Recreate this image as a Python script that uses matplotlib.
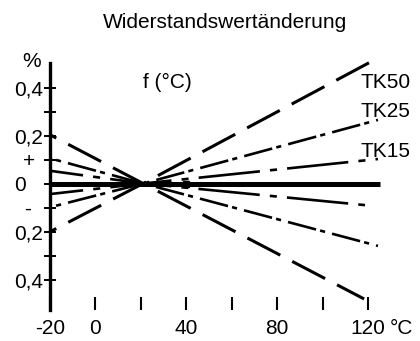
import matplotlib
matplotlib.use('Agg')
import matplotlib.pyplot as plt

plt.rcParams['font.family'] = 'Liberation Sans'
plt.rcParams['lines.scale_dashes'] = False

# temperature (°C) / resistance change (%)
tk50_up_x = [-20, 21, 124.4]
tk50_up_y = [-0.201, 0, 0.523]
tk50_dn_x = [-20, 21, 118.3]
tk50_dn_y = [0.203, 0, -0.481]
tk25_up_x = [-20, 21, 124.4]
tk25_up_y = [-0.099, 0, 0.265]
tk25_dn_x = [-20, 21, 124.4]
tk25_dn_y = [0.105, 0, -0.260]
tk15_up_x = [-20, 21, 124.4]
tk15_up_y = [-0.044, 0, 0.102]
tk15_dn_x = [-20, 21, 118.7]
tk15_dn_y = [0.053, 0, -0.090]
zero_x = [-20, 125.3]
zero_y = [0, 0]
marker_x = [40]
marker_y = [0]

xticks = [-20, 0, 20, 40, 60, 80, 100, 120]
xlabels = ['-20', '0', '', '40', '', '80', '', '120']
yticks = [0.4, 0.3, 0.2, 0.1, 0, -0.1, -0.2, -0.3, -0.4]
ylab_vals = [0.4, 0.2, 0.1, 0.0, -0.1, -0.2, -0.4]
ylab_txt = ['0,4', '0,2', '+', '0', '-', '0,2', '0,4']
curve_names = ['TK50', 'TK25', 'TK15']
curve_label_y = [0.398, 0.277, 0.110]

fig = plt.figure(figsize=(4.2, 3.41), dpi=100)
ax = fig.add_axes([50/420, 31/341, 331.6/420, 256.1/341])

ls50 = (21.6, (26.7, 9.7))
ls25 = (19.4, (20.9, 3.0, 3.7, 5.2))
ls15 = (20.3, (44.3, 7.3, 5.1, 7.3))

ax.plot(tk50_up_x, tk50_up_y, color='black', lw=2.2, linestyle=ls50, clip_on=False)
ax.plot(tk50_dn_x, tk50_dn_y, color='black', lw=2.2, linestyle=ls50, clip_on=False)
ax.plot(tk25_up_x, tk25_up_y, color='black', lw=1.9, linestyle=ls25, clip_on=False)
ax.plot(tk25_dn_x, tk25_dn_y, color='black', lw=1.9, linestyle=ls25, clip_on=False)
ax.plot(tk15_up_x, tk15_up_y, color='black', lw=1.9, linestyle=ls15, clip_on=False)
ax.plot(tk15_dn_x, tk15_dn_y, color='black', lw=1.9, linestyle=ls15, clip_on=False)
ax.plot(zero_x, zero_y, color='black', lw=3.6, solid_capstyle='butt', clip_on=False)
ax.plot(marker_x, marker_y, 's', color='black', ms=5)

ax.set_xlim(-20, 126)
ax.set_ylim(-0.527, 0.54)

for s in ['top', 'right', 'bottom']:
    ax.spines[s].set_visible(False)
ax.spines['left'].set_linewidth(2.4)
ax.spines['left'].set_bounds(-0.527, 0.502)

ax.set_xticks(xticks, labels=xlabels)
ax.tick_params(axis='x', direction='in', length=9.4, width=1.5, pad=6.5, labelsize=15)
ax.set_yticks(yticks, labels=[''] * len(yticks))
ax.tick_params(axis='y', direction='inout', length=8, width=1.4)

for v, t in zip(ylab_vals, ylab_txt):
    if t == '+':
        ha, dx = 'center', -15.1
    elif t == '-':
        ha, dx = 'center', -16.2
    elif t == '0':
        ha, dx = 'center', -21.6
    else:
        ha, dx = 'right', -5
    ax.annotate(t, xy=(0, v), xycoords=('axes fraction', 'data'), xytext=(dx, 0),
                textcoords='offset points', ha=ha, va='center_baseline', fontsize=15)

ax.annotate('°C', xy=(129.5, -0.527), xycoords='data', xytext=(0, -6.5),
            textcoords='offset points', ha='left', va='top', fontsize=15, annotation_clip=False)
ax.text(-32.3, 0.485, '%', ha='left', va='baseline', fontsize=15, clip_on=False)
ax.text(21, 0.40, 'f (°C)', ha='left', va='baseline', fontsize=15)
for name, yv in zip(curve_names, curve_label_y):
    ax.text(116.9, yv, name, ha='left', va='baseline', fontsize=15, clip_on=False)

fig.text(225/420, 1 - 28/341, 'Widerstandswertänderung', ha='center', va='baseline', fontsize=15)

fig.savefig('out.png', dpi=100)
